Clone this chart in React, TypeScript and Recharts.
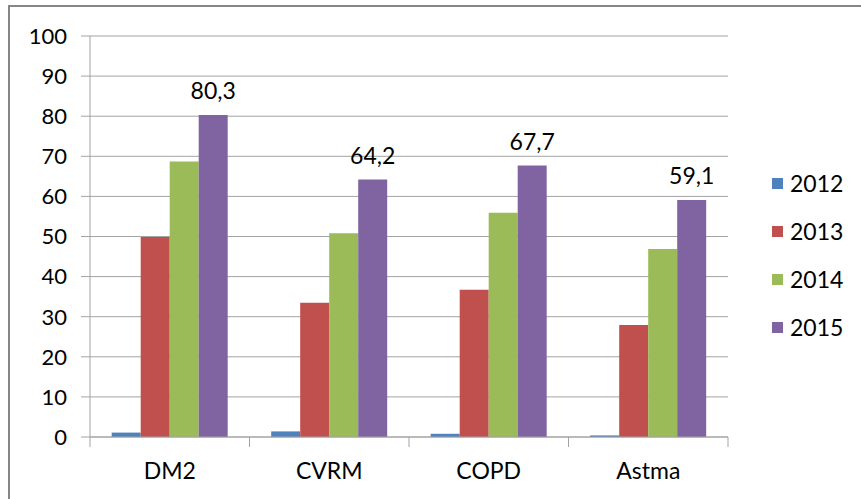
import React from "react";
import {
  BarChart,
  Bar,
  XAxis,
  YAxis,
  CartesianGrid,
  LabelList,
} from "recharts";

// Categories and yearly percentages
const categories = ["DM2", "CVRM", "COPD", "Astma"];
const years = ["2012", "2013", "2014", "2015"];
const values2012 = [1.1, 1.4, 0.8, 0.4];
const values2013 = [49.9, 33.5, 36.7, 27.9];
const values2014 = [68.7, 50.8, 55.9, 46.9];
const values2015 = [80.3, 64.2, 67.7, 59.1];
const yTicks = [0, 10, 20, 30, 40, 50, 60, 70, 80, 90, 100];

const seriesValues = [values2012, values2013, values2014, values2015];
const colors = ["#4F81BD", "#C0504D", "#9BBB59", "#8064A2"];

const data = categories.map((name, i) => {
  const row: Record<string, string | number> = { name };
  years.forEach((y, s) => {
    row[y] = seriesValues[s][i];
  });
  return row;
});

const FONT = "Lato, 'Open Sans', sans-serif";
const AXIS_GRAY = "#a3a3a3";
const X_TICK_SIZE = 10;
const X_TICK_MARGIN = 16;

const fmt = (v: number) => v.toFixed(1).replace(".", ",");

// Category label plus tick marks on the boundaries between categories
const CategoryTick = (props: any) => {
  const { x, y, payload, index, visibleTicksCount } = props;
  const half = payload.offset ?? 0;
  const axisY = y - X_TICK_SIZE - X_TICK_MARGIN;
  const marks = [x - half];
  if (index === visibleTicksCount - 1) marks.push(x + half);
  return (
    <g>
      {marks.map((mx, k) => (
        <line
          key={k}
          x1={mx}
          x2={mx}
          y1={axisY}
          y2={axisY + X_TICK_SIZE}
          stroke={AXIS_GRAY}
        />
      ))}
      <text
        x={x}
        y={y}
        dy="0.71em"
        textAnchor="middle"
        fill="#000"
        fontSize={23}
        fontFamily={FONT}
      >
        {payload.value}
      </text>
    </g>
  );
};

// Series key drawn beside the plot
const SeriesKey = () => (
  <div
    style={{
      position: "absolute",
      left: 772,
      top: 159,
      fontFamily: FONT,
      fontSize: 23,
      color: "#000",
    }}
  >
    {years.map((y, i) => (
      <div
        key={y}
        style={{ display: "flex", alignItems: "center", height: 48 }}
      >
        <span
          style={{
            display: "inline-block",
            width: 11,
            height: 11,
            background: colors[i],
            marginRight: 7,
          }}
        />
        <span>{y}</span>
      </div>
    ))}
  </div>
);

export default function App() {
  return (
    <div
      style={{
        position: "absolute",
        left: 0,
        top: 0,
        width: 861,
        height: 499,
        background: "#fff",
      }}
    >
      <div
        style={{
          position: "absolute",
          left: 8,
          top: 5,
          width: 853,
          height: 494,
          borderTop: "2px solid #868686",
          borderLeft: "2px solid #868686",
        }}
      />
      <BarChart
        width={861}
        height={499}
        data={data}
        margin={{ top: 36, right: 133, bottom: 22, left: 0 }}
        barCategoryGap="13.6%"
        barGap={0}
      >
        <CartesianGrid vertical={false} stroke={AXIS_GRAY} />
        <XAxis
          dataKey="name"
          tickLine={false}
          tickSize={X_TICK_SIZE}
          tickMargin={X_TICK_MARGIN}
          axisLine={{ stroke: AXIS_GRAY }}
          height={40}
          interval={0}
          tick={<CategoryTick />}
        />
        <YAxis
          domain={[0, 100]}
          ticks={yTicks}
          width={90}
          tickSize={9}
          tickMargin={14}
          interval={0}
          axisLine={{ stroke: AXIS_GRAY }}
          tickLine={{ stroke: AXIS_GRAY }}
          tick={{ fill: "#000", fontSize: 22, fontFamily: FONT }}
        />
        {years.map((y, i) => (
          <Bar
            key={y}
            dataKey={y}
            fill={colors[i]}
            isAnimationActive={false}
          >
            {i === 3 && (
              <LabelList
                dataKey={y}
                position="top"
                offset={16}
                formatter={(v: number) => fmt(v)}
                style={{ fill: "#000", fontSize: 23, fontFamily: FONT }}
              />
            )}
          </Bar>
        ))}
      </BarChart>
      <SeriesKey />
    </div>
  );
}
